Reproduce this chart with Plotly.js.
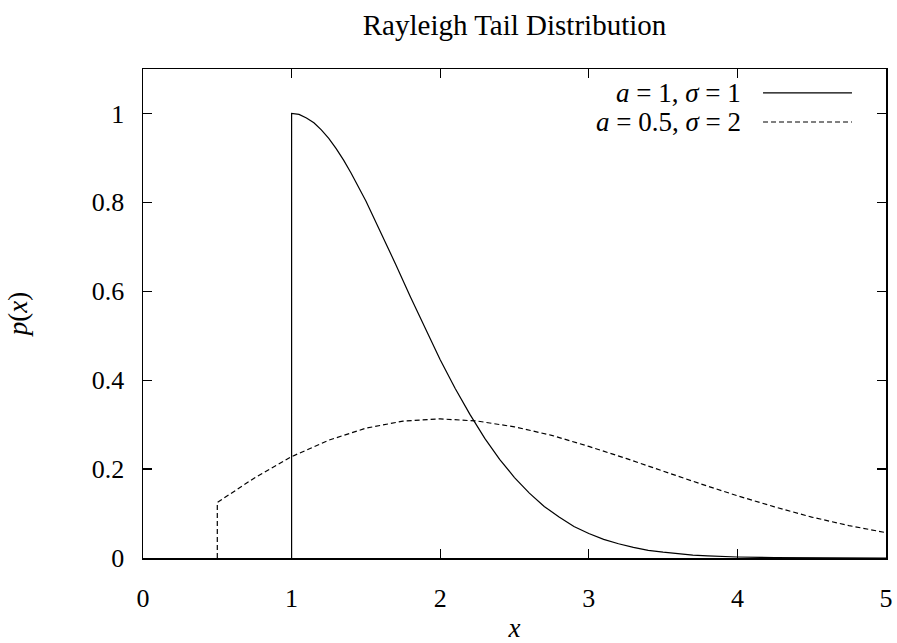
<!DOCTYPE html>
<html>
<head>
<meta charset="utf-8">
<script src="https://cdn.plot.ly/plotly-3.0.1.min.js"></script>
<style>html,body{margin:0;padding:0;background:#fff;}#chart{width:897px;height:643px;}</style>
</head>
<body>
<div id="chart"></div>
<script>
// Series 1: a = 1, sigma = 1
const x1 = [1, 1, 1.05, 1.1, 1.15, 1.2, 1.25, 1.3, 1.35, 1.4, 1.5, 1.6, 1.7, 1.8, 1.9, 2.0, 2.1, 2.2, 2.3, 2.4, 2.5, 2.6, 2.7, 2.8, 2.9, 3.0, 3.1, 3.2, 3.3, 3.4, 3.5, 3.6, 3.7, 3.8, 3.9, 4.0, 4.25, 4.5, 5.0];
const y1 = [0, 1.0, 0.998, 0.990, 0.979, 0.963, 0.944, 0.921, 0.895, 0.866, 0.803, 0.733, 0.661, 0.587, 0.515, 0.446, 0.382, 0.323, 0.269, 0.222, 0.181, 0.146, 0.116, 0.092, 0.071, 0.055, 0.042, 0.032, 0.024, 0.017, 0.013, 0.009, 0.0065, 0.0046, 0.0032, 0.0022, 0.0008, 0.0003, 0.0];
// Series 2: a = 0.5, sigma = 2
const x2 = [0.5, 0.5, 0.75, 1.0, 1.25, 1.5, 1.75, 2.0, 2.25, 2.5, 2.75, 3.0, 3.25, 3.5, 3.75, 4.0, 4.25, 4.5, 4.75, 5.0];
const y2 = [0, 0.125, 0.180, 0.228, 0.265, 0.292, 0.308, 0.313, 0.308, 0.295, 0.276, 0.251, 0.224, 0.195, 0.167, 0.140, 0.115, 0.092, 0.073, 0.057];

const seriesNames = ["<i>a</i> = 1, <i>σ</i> = 1", "<i>a</i> = 0.5, <i>σ</i> = 2"];
const xTicks = [0, 1, 2, 3, 4, 5];
const yTicks = [0, 0.2, 0.4, 0.6, 0.8, 1];
const yTickText = ["0", "0.2", "0.4", "0.6", "0.8", "1"];

const FONT = "'Liberation Serif', 'Times New Roman', serif";

const traces = [
  {x: x1, y: y1, type: "scatter", mode: "lines", name: seriesNames[0],
   line: {color: "#000", width: 1.2}},
  {x: x2, y: y2, type: "scatter", mode: "lines", name: seriesNames[1],
   line: {color: "#000", width: 1.2, dash: "5px,3px"}}
];

const axisCommon = {
  showgrid: false, zeroline: false, showline: true, linecolor: "#000", linewidth: 1.5,
  mirror: "ticks", ticks: "inside", ticklen: 9, tickwidth: 1.2, tickcolor: "#000",
  tickfont: {family: FONT, size: 26, color: "#000"}
};

const layout = {
  width: 897, height: 643,
  margin: {l: 143, r: 11, t: 69, b: 85},
  paper_bgcolor: "#fff", plot_bgcolor: "#fff",
  showlegend: false,
  font: {family: FONT, color: "#000"},
  title: {text: "Rayleigh Tail Distribution", font: {family: FONT, size: 29, color: "#000"},
          xref: "paper", x: 0.5, xanchor: "center", yref: "container", y: 0.962, yanchor: "middle"},
  xaxis: Object.assign({}, axisCommon, {
    range: [0, 5], tickvals: xTicks, ticktext: xTicks.map(String), ticklabelstandoff: 16,
    title: {text: "<i>x</i>", font: {family: FONT, size: 27, color: "#000"}, standoff: 16}
  }),
  yaxis: Object.assign({}, axisCommon, {
    range: [0, 1.1], tickvals: yTicks, ticktext: yTickText, ticklabelstandoff: 12,
    title: {text: "<i>p</i>(<i>x</i>)", font: {family: FONT, size: 27, color: "#000"}, standoff: 56}
  }),
  annotations: [
    {xref: "paper", yref: "paper", x: 0.8075, y: 0.951, xanchor: "right", yanchor: "middle",
     text: seriesNames[0], showarrow: false, font: {family: FONT, size: 27, color: "#000"}},
    {xref: "paper", yref: "paper", x: 0.8075, y: 0.8916, xanchor: "right", yanchor: "middle",
     text: seriesNames[1], showarrow: false, font: {family: FONT, size: 27, color: "#000"}}
  ],
  shapes: [
    {type: "line", xref: "paper", yref: "paper", x0: 0.8345, x1: 0.9542, y0: 0.951, y1: 0.951,
     line: {color: "#000", width: 1.2}},
    {type: "line", xref: "paper", yref: "paper", x0: 0.8345, x1: 0.9542, y0: 0.8916, y1: 0.8916,
     line: {color: "#000", width: 1.2, dash: "5px,3px"}}
  ]
};

Plotly.newPlot("chart", traces, layout, {staticPlot: true, displayModeBar: false});
</script>
</body>
</html>
